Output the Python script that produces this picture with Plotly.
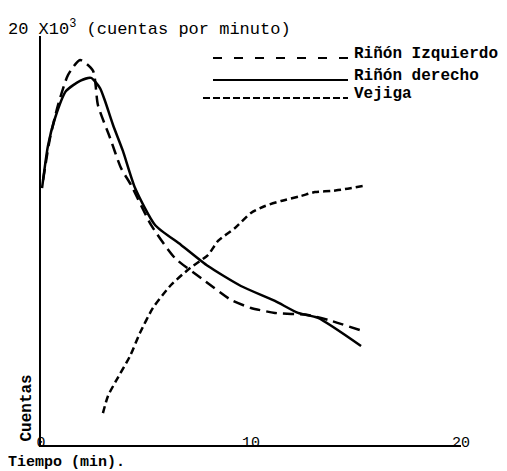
import plotly.graph_objects as go

# Time in minutes, counts in thousands per minute
izq_t = [0.1, 0.43, 0.81, 1.29, 1.86, 2.48, 2.71, 3.29, 3.81, 4.29, 5.24, 6.38, 7.81, 9.05, 10.0, 11.14, 12.71, 13.67, 15.19]
izq_c = [13.28, 15.39, 17.04, 18.55, 19.30, 18.75, 17.04, 15.39, 13.88, 13.03, 11.03, 9.37, 8.22, 7.27, 6.87, 6.62, 6.52, 6.27, 5.76]

der_t = [0.05, 0.33, 0.67, 1.19, 1.86, 2.38, 2.81, 3.05, 3.43, 3.90, 4.48, 5.43, 6.67, 7.95, 9.52, 11.14, 12.24, 13.19, 15.24]
der_c = [12.88, 14.99, 16.39, 17.74, 18.25, 18.40, 17.89, 17.24, 16.04, 14.74, 12.88, 11.03, 10.03, 8.97, 7.97, 7.22, 6.62, 6.37, 4.96]

vej_t = [2.95, 3.19, 3.57, 4.24, 4.71, 5.33, 6.19, 7.10, 7.95, 8.43, 9.24, 10.0, 10.67, 11.43, 12.38, 13.05, 13.81, 14.48, 15.33]
vej_c = [1.60, 2.46, 3.21, 4.46, 5.61, 6.87, 8.02, 8.87, 9.52, 10.23, 10.88, 11.63, 11.98, 12.23, 12.48, 12.68, 12.73, 12.83, 12.98]

x_ticks = [0, 10, 20]
x_ticktext = ["0", "10", "20"]

names = ["Riñón Izquierdo", "Riñón derecho", "Vejiga"]
dashes = ["11px,6px", "solid", "7px,4px"]
legend_dashes = ["9px,12px", "solid", "7px,3px"]

W, H = 507, 471
L, R, T, B = 33, 54, 28, 34
pw, ph = W - L - R, H - T - B

def px(xp):
    return (xp - L) / pw

def py(yp):
    return (H - B - yp) / ph

MONO = "Liberation Mono, Courier New, monospace"

fig = go.Figure()
for t, c, n, d in zip([izq_t, der_t, vej_t], [izq_c, der_c, vej_c], names, dashes):
    fig.add_trace(go.Scatter(x=t, y=c, mode="lines", name=n,
                             line=dict(color="black", width=2.5, dash=d, shape="spline", smoothing=0.6)))

# legend drawn as sample lines + labels
leg_rows = [50, 72, 90]
leg_x0 = [205, 205, 195]
for yrow, x0, d, n in zip(leg_rows, leg_x0, legend_dashes, names):
    fig.add_shape(type="line", xref="paper", yref="paper",
                  x0=px(x0), x1=px(340), y0=py(yrow), y1=py(yrow),
                  line=dict(color="black", width=2, dash=d))
    fig.add_annotation(xref="paper", yref="paper", x=px(344), y=py(yrow - 4),
                       xanchor="left", yanchor="middle", showarrow=False,
                       text="<b>" + n + "</b>", font=dict(family=MONO, size=16, color="black"))

fig.add_annotation(xref="paper", yref="paper", x=px(-2), y=py(20), xanchor="left", yanchor="middle",
                   showarrow=False, text="20 X10<sup>3</sup> (cuentas por minuto)",
                   font=dict(family=MONO, size=17, color="black"))
fig.add_annotation(xref="paper", yref="paper", x=px(-2), y=py(465), xanchor="left", yanchor="bottom",
                   showarrow=False, text="<b>Tiempo (min).</b>",
                   font=dict(family=MONO, size=15, color="black"))
fig.add_annotation(xref="paper", yref="paper", x=px(29), y=py(436), xanchor="right", yanchor="bottom",
                   showarrow=False, text="<b>Cuentas</b>", textangle=-90,
                   font=dict(family=MONO, size=16, color="black"))

fig.update_layout(
    width=W, height=H, margin=dict(l=L, r=R, t=T, b=B),
    paper_bgcolor="white", plot_bgcolor="white", showlegend=False,
    xaxis=dict(range=[0, 20], showgrid=False, zeroline=False, showline=True, linecolor="black", linewidth=2,
               tickvals=x_ticks, ticktext=x_ticktext, ticks="", ticklabelstandoff=-18,
               tickfont=dict(family=MONO, size=15, color="black")),
    yaxis=dict(range=[0, 20.5], showgrid=False, zeroline=False, showline=True, linecolor="black", linewidth=2,
               showticklabels=False, ticks=""),
)
fig.write_html("out.html")
